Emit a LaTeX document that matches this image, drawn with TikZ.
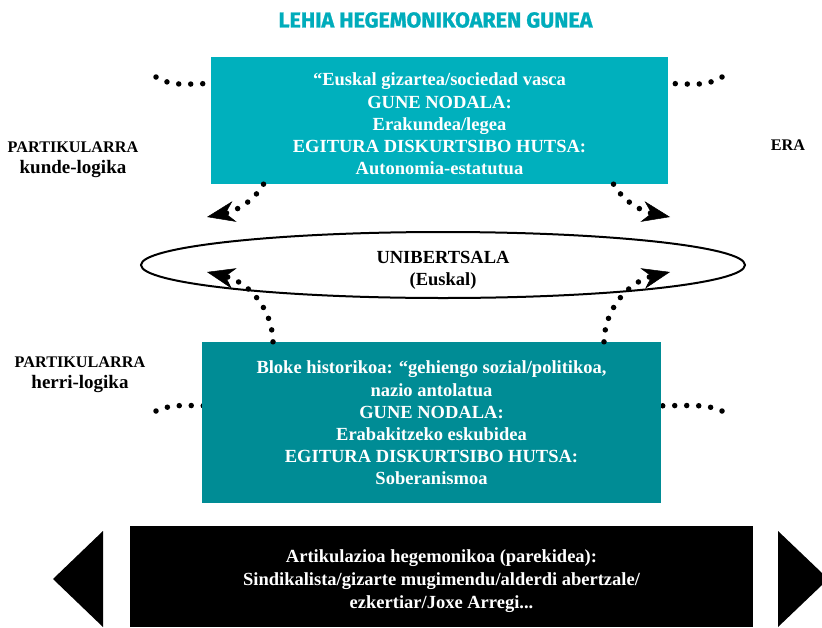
\documentclass[tikz,border=0pt]{standalone}
\usepackage{fontspec}
\setmainfont{Liberation Serif}
\newfontfamily\titlefont{Fira Sans}[BoldFeatures={FakeBold=1.2}]
\usetikzlibrary{shapes.geometric,arrows.meta}
\definecolor{titleteal}{RGB}{0,172,187}
\definecolor{topteal}{RGB}{0,176,189}
\definecolor{botteal}{RGB}{0,140,149}
\newcommand{\capsize}{\fontsize{16.2}{21}\selectfont}
\newcommand{\lowsize}{\fontsize{19}{21}\selectfont}
\tikzset{
  boxtext/.style={font=\fontsize{18.5}{22.2}\selectfont\bfseries, align=center},
  tealtext/.style={boxtext, text=white, inner sep=0pt},
  tealbox/.style={inner sep=0pt},
  sidelabel/.style={font=\fontsize{17.5}{21}\selectfont\bfseries, align=center},
  dotline/.style={line width=5.5pt, line cap=round, dash pattern=on 0pt off 12pt},
  dotarrow/.style={dotline, -{Stealth[length=28pt,width=21pt,inset=9pt,line width=0.5pt]}},
  blacktri/.style={fill=black, draw=none}
}
\begin{document}
\begin{tikzpicture}[x=1pt,y=-1pt]
\useasboundingbox (0,0) rectangle (822,627);

% title
\node[font=\titlefont\fontsize{21.5}{24}\selectfont\bfseries, text=titleteal] (title) at (435.5,20) {LEHIA HEGEMONIKOAREN GUNEA};

% side labels
\node[sidelabel] (partA) at (73,159.5) {{\capsize PARTIKULARRA}\\{\lowsize kunde-logika}};
\node[sidelabel] (partB) at (80,375) {{\capsize PARTIKULARRA}\\{\lowsize herri-logika}};
\node[sidelabel] (era) at (788,145.5) {\capsize ERA};

% dotted side curves (behind boxes)
\coordinate (dTL) at (156,77);
\coordinate (dTR) at (722,77);
\coordinate (dBL) at (156,411);
\coordinate (dBR) at (722,411);
\draw[dotline] (dTL) .. controls (172,85) .. (220,83);
\draw[dotline] (dTR) .. controls (706,85) .. (660,83);
\draw[dotline] (dBL) .. controls (172,405) .. (215,406);
\draw[dotline] (dBR) .. controls (706,405) .. (650,406);

% boxes
\node[tealbox, fill=topteal, minimum width=457pt, minimum height=127pt] (top) at (439.5,120.5) {};
\node[tealtext] (toptext) at ([yshift=-3.5pt]top.center)
  {“Euskal gizartea/sociedad vasca\\GUNE NODALA:\\Erakundea/legea\\EGITURA DISKURTSIBO HUTSA:\\Autonomia-estatutua};
\node[tealbox, fill=botteal, minimum width=459pt, minimum height=161pt] (bot) at (431.5,422.5) {};
\node[tealtext] (bottext) at ([yshift=-0.5pt]bot.center)
  {Bloke historikoa: “gehiengo sozial/politikoa,\\nazio antolatua\\GUNE NODALA:\\Erabakitzeko eskubidea\\EGITURA DISKURTSIBO HUTSA:\\Soberanismoa};

% ellipse
\node[ellipse, draw, line width=2pt, minimum width=604pt, minimum height=66pt] (uni) at (443,265) {};
\node[boxtext] (unitext) at ([yshift=-5pt]uni.center) {UNIBERTSALA\\(Euskal)};

% dotted arrows
\coordinate (tUL) at (207,217);
\coordinate (tUR) at (670,217);
\coordinate (tLL) at (207,272);
\coordinate (tLR) at (670,272);
\draw[dotarrow] ([xshift=-176pt]top.south) .. controls (252,204) and (232,212) .. (tUL);
\draw[dotarrow] ([xshift=174pt]top.south) .. controls (625,204) and (645,212) .. (tUR);
\draw[dotarrow] ([xshift=-158.5pt]bot.north) .. controls (272,305) and (245,281) .. (tLL);
\draw[dotarrow] ([xshift=172.5pt]bot.north) .. controls (605,305) and (632,281) .. (tLR);

% bottom black band
\node[fill=black, minimum width=623pt, minimum height=101pt, inner sep=0pt] (art) at (441.5,576.5) {};
\node[tealtext, font=\fontsize{18.5}{23}\selectfont\bfseries] (arttext) at ([yshift=-5pt]art.center)
  {Artikulazioa hegemonikoa (parekidea):\\Sindikalista/gizarte mugimendu/alderdi abertzale/\\ezkertiar/Joxe Arregi...};
\fill[blacktri] (103,531) -- (53,579) -- (103,627) -- cycle;
\fill[blacktri] (778,531) -- (822,573) -- (822,585) -- (778,627) -- cycle;
\end{tikzpicture}
\end{document}
